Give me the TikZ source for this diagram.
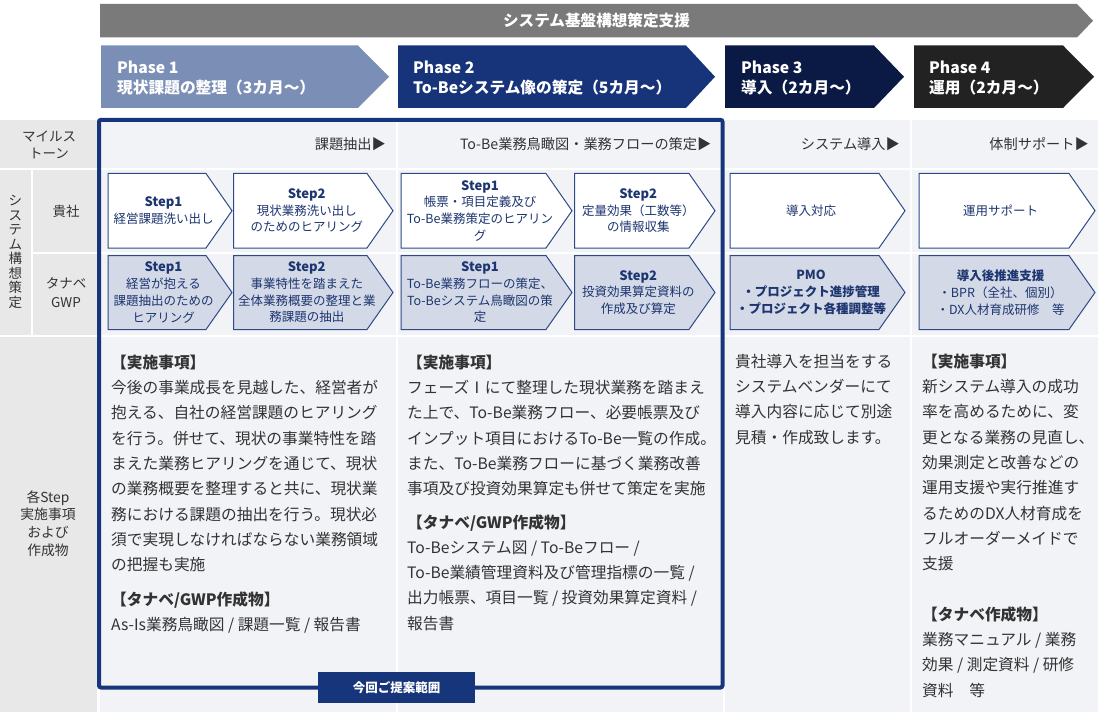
\documentclass[tikz,border=0pt]{standalone}
\usepackage{fontspec}
\setmainfont{Noto Sans CJK JP}
\definecolor{bannergray}{HTML}{7A7A7A}
\definecolor{ph1}{HTML}{7B8FB6}
\definecolor{ph2}{HTML}{17347A}
\definecolor{ph3}{HTML}{0B1A45}
\definecolor{ph4}{HTML}{222222}
\definecolor{cellbg}{HTML}{F2F3F7}
\definecolor{labelbg}{HTML}{E8E8E8}
\definecolor{stepline}{HTML}{2E4A86}
\definecolor{stepfill}{HTML}{D3D9E6}
\definecolor{steptext}{HTML}{1D3570}
\definecolor{bodytext}{HTML}{333333}
\definecolor{frameblue}{HTML}{17357A}
\newcommand\stepshape[5]{\filldraw[#5] (#1,#2) -- ({#3-26},#2) -- (#3,{(#2+#4)/2}) -- ({#3-26},#4) -- (#1,#4) -- cycle;}
\newcommand\phasearrow[4]{\fill[#4] (#1,45.5) -- (#2,45.5) -- (#3,76.75) -- (#2,108) -- (#1,108) -- cycle;}
\newcommand\stepttl[1]{{\bfseries\fontsize{13}{16.7}\selectfont #1}}
\begin{document}
\begin{tikzpicture}[x=1pt,y=-1pt,
  cellfill/.style={fill=cellbg},
  labfill/.style={fill=labelbg},
  labtext/.style={font=\fontsize{13.5}{17.5}\selectfont, text=bodytext, align=center, inner sep=0},
  mstext/.style={font=\fontsize{14.2}{16}\selectfont, text=bodytext, anchor=east, inner sep=0},
  phtext/.style={font=\bfseries\fontsize{15.7}{18}\selectfont, text=white, anchor=base west, inner sep=0},
  stepA/.style={draw=stepline, line width=1pt, fill=white},
  stepB/.style={draw=stepline, line width=1pt, fill=stepfill},
  steptxt/.style={font=\fontsize{12.5}{16.7}\selectfont, text=steptext, align=center, inner sep=0},
  bodytxt/.style={font=\fontsize{15.7}{25.3}\selectfont, text=bodytext, align=left, anchor=north west, inner sep=0},
  scopebox/.style={fill=frameblue, text=white, font=\bfseries\fontsize{12.5}{15}\selectfont, minimum width=157pt, minimum height=31pt, inner sep=0},
]
\fill[white] (0,0) rectangle (1100,714);
\useasboundingbox (0,0) rectangle (1100,714);

% banner
\fill[bannergray] (100,4) -- (1077,4) -- (1093,20.75) -- (1077,37.5) -- (100,37.5) -- cycle;
\node[font=\bfseries\fontsize{15.6}{18}\selectfont, text=white, inner sep=0] (banner) at (596.5,21) {システム基盤構想策定支援};

% phase arrows
\phasearrow{101}{358}{389}{ph1}
\phasearrow{398}{686}{715}{ph2}
\phasearrow{725}{874}{904}{ph3}
\phasearrow{914}{1063}{1094}{ph4}
\node[phtext] (p1a) at (117,73.5) {Phase 1};
\node[phtext] (p1b) at (117,94) {現状課題の整理（3カ月〜）};
\node[phtext] (p2a) at (413,73.5) {Phase 2};
\node[phtext] (p2b) at (413,94) {To-Beシステム像の策定（5カ月〜）};
\node[phtext] (p3a) at (741,73.5) {Phase 3};
\node[phtext] (p3b) at (741,94) {導入（2カ月〜）};
\node[phtext] (p4a) at (929,73.5) {Phase 4};
\node[phtext] (p4b) at (929,94) {運用（2カ月〜）};

% cells
\foreach \xa/\xb in {100/396, 398/723, 725/910, 912/1098}{
  \foreach \ya/\yb in {120.5/168, 170/252, 254/335, 337/712}{
    \fill[cellfill] (\xa,\ya) rectangle (\xb,\yb);
  }
}
\fill[labfill] (0,120.5) rectangle (97,168);
\fill[labfill] (0,170) rectangle (31,335);
\fill[labfill] (33,170) rectangle (97,252);
\fill[labfill] (33,254) rectangle (97,335);
\fill[labfill] (0,337) rectangle (97,712);

% left labels
\node[labtext, font=\fontsize{13.5}{16.5}\selectfont] (lms) at (49,145) {マイルス\\トーン};
\node[labtext, font=\fontsize{13.5}{14.5}\selectfont] (lsys) at (15.5,252) {シ\\ス\\テ\\ム\\構\\想\\策\\定};
\node[labtext] (lkisha) at (66,211.5) {貴社};
\node[labtext, font=\fontsize{13.5}{19}\selectfont] (ltgwp) at (66,292.5) {タナベ\\GWP};
\node[labtext, font=\fontsize{13.8}{17.7}\selectfont] (lstep) at (48,523.5) {各Step\\実施事項\\および\\作成物};

% milestones
\node[mstext] (ms1) at (386,144.5) {課題抽出▶};
\node[mstext] (ms2) at (711.5,144.5) {To-Be業務鳥瞰図・業務フローの策定▶};
\node[mstext] (ms3) at (900,144.5) {システム導入▶};
\node[mstext] (ms4) at (1089,144.5) {体制サポート▶};

% step boxes row 1
\stepshape{108}{173.5}{232}{248}{stepA}
\stepshape{233.5}{173.5}{393}{248}{stepA}
\stepshape{401}{173.5}{572}{248}{stepA}
\stepshape{574.5}{173.5}{715}{248}{stepA}
\stepshape{730}{173.5}{905}{248}{stepA}
\stepshape{919}{173.5}{1095}{248}{stepA}
% step boxes row 2
\stepshape{108}{255.5}{232}{329.5}{stepB}
\stepshape{233.5}{255.5}{393}{329.5}{stepB}
\stepshape{401}{255.5}{572}{329.5}{stepB}
\stepshape{574.5}{255.5}{715}{329.5}{stepB}
\stepshape{730}{255.5}{905}{329.5}{stepB}
\stepshape{919}{255.5}{1095}{329.5}{stepB}

\node[steptxt] (s11) at (163.5,210.7) {\stepttl{Step1}\\経営課題洗い出し};
\node[steptxt] (s12) at (306.75,210.7) {\stepttl{Step2}\\現状業務洗い出し\\のためのヒアリング};
\node[steptxt] (s13) at (480,210.7) {\stepttl{Step1}\\帳票・項目定義及び\\To-Be業務策定のヒアリン\\グ};
\node[steptxt] (s14) at (638.25,210.7) {\stepttl{Step2}\\定量効果（工数等）\\の情報収集};
\node[steptxt] (s15) at (811,210.7) {導入対応};
\node[steptxt] (s16) at (1000.5,210.7) {運用サポート};

\node[steptxt] (s21) at (163.5,292.5) {\stepttl{Step1}\\経営が抱える\\課題抽出のための\\ヒアリング};
\node[steptxt] (s22) at (306.75,292.5) {\stepttl{Step2}\\事業特性を踏まえた\\全体業務概要の整理と業\\務課題の抽出};
\node[steptxt] (s23) at (480,292.5) {\stepttl{Step1}\\To-Be業務フローの策定、\\To-Beシステム鳥瞰図の策\\定};
\node[steptxt] (s24) at (638.25,292.5) {\stepttl{Step2}\\投資効果算定資料の\\作成及び算定};
\node[steptxt, font=\bfseries\fontsize{12.5}{16.7}\selectfont] (s25) at (811,292.5) {PMO\\・プロジェクト進捗管理\\・プロジェクト各種調整等};
\node[steptxt] (s26) at (1000.5,292.5) {\textbf{導入後推進支援}\\・BPR（全社、個別）\\・DX人材育成研修　等};

% body texts
\node[bodytxt] (b1) at (111,354) {\rule{0pt}{14pt}\textbf{【実施事項】}\\
今後の事業成長を見越した、経営者が\\
抱える、自社の経営課題のヒアリング\\
を行う。併せて、現状の事業特性を踏\\
まえた業務ヒアリングを通じて、現状\\
の業務概要を整理すると共に、現状業\\
務における課題の抽出を行う。現状必\\
須で実現しなければならない業務領域\\
の把握も実施\\[9.7pt]
\textbf{【タナベ/GWP作成物】}\\
As-Is業務鳥瞰図 / 課題一覧 / 報告書};

\node[bodytxt] (b2) at (407,354) {\rule{0pt}{14pt}\textbf{【実施事項】}\\
フェーズⅠにて整理した現状業務を踏まえ\\
た上で、To-Be業務フロー、必要帳票及び\\
インプット項目におけるTo-Be一覧の作成。\\
また、To-Be業務フローに基づく業務改善\\
事項及び投資効果算定も併せて策定を実施\\[8pt]
\textbf{【タナベ/GWP作成物】}\\
To-Beシステム図 / To-Beフロー /\\
To-Be業績管理資料及び管理指標の一覧 /\\
出力帳票、項目一覧 / 投資効果算定資料 /\\
報告書};

\node[bodytxt] (b3) at (735,353) {\rule{0pt}{14pt}貴社導入を担当をする\\
システムベンダーにて\\
導入内容に応じて別途\\
見積・作成致します。};

\node[bodytxt] (b4) at (922,353) {\rule{0pt}{14pt}\textbf{【実施事項】}\\
新システム導入の成功\\
率を高めるために、変\\
更となる業務の見直し、\\
効果測定と改善などの\\
運用支援や実行推進す\\
るためのDX人材育成を\\
フルオーダーメイドで\\
支援\\[25.3pt]
\textbf{【タナベ作成物】}\\
業務マニュアル / 業務\\
効果 / 測定資料 / 研修\\
資料　等};

% proposal frame
\draw[frameblue, line width=4pt, rounded corners=2pt] (99,119.8) rectangle (722.5,687.5);
\node[scopebox] (scope) at (396.5,687.5) {今回ご提案範囲};
\end{tikzpicture}
\end{document}
